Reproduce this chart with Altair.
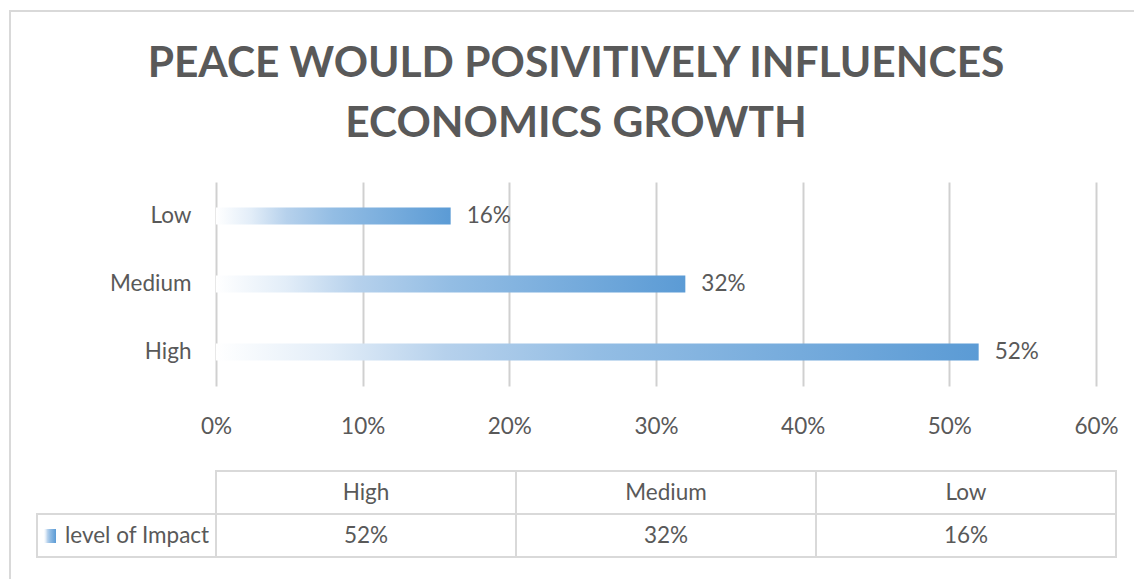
import altair as alt
import pandas as pd

# ---- data ----
categories = ["High", "Medium", "Low"]
values = [0.52, 0.32, 0.16]
tick_values = [0, 0.1, 0.2, 0.3, 0.4, 0.5, 0.6]
series_name = "level of Impact"
title_lines = ["PEACE WOULD POSIVITIVELY INFLUENCES", "ECONOMICS GROWTH"]
table_rows = ["header", "value"]

FONT = "Lato"
GREY = "#595959"
LINE = "#d9d9d9"
LS = 22.5

grad = alt.Gradient(
    gradient="linear",
    x1=0, x2=1, y1=0, y2=0,
    stops=[
        alt.GradientStop(offset=0, color="#ffffff"),
        alt.GradientStop(offset=0.15, color="#e2edf8"),
        alt.GradientStop(offset=0.3, color="#b6d1ec"),
        alt.GradientStop(offset=0.5, color="#93bde4"),
        alt.GradientStop(offset=1, color="#5b9bd5"),
    ],
)

bars_df = pd.DataFrame({"category": categories, "value": values})

table_df = pd.DataFrame(
    [{"category": c, "row": "header", "text": c} for c in categories]
    + [{"category": c, "row": "value", "text": f"{round(v * 100)}%"} for c, v in zip(categories, values)]
)

xs = alt.Scale(domain=[0, 0.6])
ys = alt.Scale(domain=["Low", "Medium", "High"], paddingInner=0.75, paddingOuter=0.375)

x_enc = alt.X(
    "value:Q",
    scale=xs,
    axis=alt.Axis(
        values=tick_values, format="%", grid=True, gridColor="#d0d0d0", gridWidth=2,
        domain=False, ticks=False, labelPadding=29, labelFlush=False,
        labelFont=FONT, labelFontSize=LS, labelColor=GREY, title=None,
    ),
)
y_enc = alt.Y(
    "category:N",
    scale=ys,
    axis=alt.Axis(
        domain=False, ticks=False, grid=False, labelPadding=25, labelFont=FONT,
        labelFontSize=LS, labelColor=GREY, title=None,
    ),
)

bars = alt.Chart(bars_df).mark_bar(color=grad).encode(x=x_enc, y=y_enc)
labels = alt.Chart(bars_df).mark_text(
    align="left", baseline="middle", dx=16, font=FONT, fontSize=LS, color=GREY
).encode(
    x=alt.X("value:Q", scale=xs, axis=None),
    y=alt.Y("category:N", scale=ys, axis=None),
    text=alt.Text("value:Q", format=".0%"),
)

txs = alt.Scale(domain=categories, range=[0, 900], paddingInner=0, paddingOuter=0)
tys = alt.Scale(domain=table_rows, range=[289, 375], paddingInner=0, paddingOuter=0)

cells = alt.Chart(table_df).mark_rect(fill="white", stroke=LINE, strokeWidth=2).encode(
    x=alt.X("category:N", scale=txs, axis=None),
    y=alt.Y("row:N", scale=tys, axis=None),
)
cell_text = alt.Chart(table_df).mark_text(
    baseline="middle", font=FONT, fontSize=LS, color=GREY
).encode(
    x=alt.X("category:N", scale=txs, axis=None),
    y=alt.Y("row:N", scale=tys, axis=None),
    text="text:N",
)
legend_df = pd.DataFrame({"row": ["value"], "text": [series_name]})
legend_cell = alt.Chart(legend_df).mark_rect(fill="white", stroke=LINE, strokeWidth=2).encode(
    x=alt.value(-179), x2=alt.value(0),
    y=alt.Y("row:N", scale=tys, axis=None),
)
legend_swatch = alt.Chart(legend_df).mark_rect(color=grad).encode(
    x=alt.value(-172), x2=alt.value(-160),
    y=alt.value(347), y2=alt.value(361),
)
legend_text = alt.Chart(legend_df).mark_text(
    align="left", baseline="middle", font=FONT, fontSize=LS, color=GREY
).encode(
    x=alt.value(-151),
    y=alt.Y("row:N", scale=tys, axis=None),
    text="text:N",
)

title_df = pd.DataFrame({"t": [title_lines]})
title = alt.Chart(title_df).mark_text(
    align="center", baseline="alphabetic", font=FONT, fontSize=42.5, fontWeight="bold",
    color=GREY, lineHeight=60,
).encode(x=alt.value(360), y=alt.value(-105), text="t")

frame = alt.Chart(pd.DataFrame({"a": [0]})).mark_rect(
    fill=None, stroke=LINE, strokeWidth=2
).encode(
    x=alt.value(-206), x2=alt.value(935),
    y=alt.value(-171), y2=alt.value(410),
)

chart = alt.layer(
    frame, title, bars, labels, cells, cell_text, legend_cell, legend_swatch, legend_text
).resolve_scale(
    x="independent", y="independent"
).properties(
    width=880,
    height=204,
    padding={"left": 216, "top": 182, "right": 38, "bottom": 193},
    autosize=alt.AutoSizeParams(type="none"),
    view=alt.ViewBackground(stroke="transparent", strokeWidth=0),
).configure_view(
    stroke="transparent", strokeWidth=0
).configure_axis(
    domain=False, ticks=False
).configure(background="white")

chart.save("out.html", embed_options={"renderer": "svg", "actions": False})
